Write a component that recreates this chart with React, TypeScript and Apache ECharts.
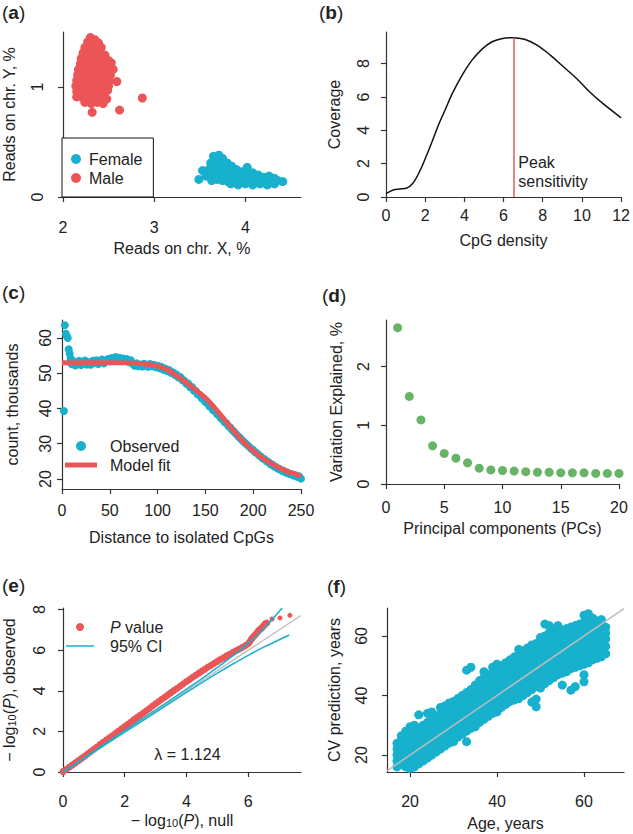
import { useEffect, useRef } from 'react';
import * as echarts from 'echarts';

const FONT = '"Liberation Sans", Arial, Helvetica, sans-serif';
const INK = '#222';
const AXIS = '#333';
const RED = '#ec5558';
const CYAN = '#17b0cd';
const GREEN = '#67b467';
const GRAY = '#bdbdbd';
const PEAK_RED = '#d9605f';

// (a) reads on chromosomes X / Y (%)
const maleXY: number[][] = [
  [2.30,1.45],[2.35,1.43],[2.27,1.41],[2.33,1.39],[2.39,1.40],
  [2.24,1.36],[2.30,1.35],[2.36,1.34],[2.42,1.36],
  [2.22,1.31],[2.28,1.30],[2.34,1.29],[2.40,1.31],[2.46,1.29],
  [2.20,1.26],[2.26,1.25],[2.32,1.24],[2.38,1.26],[2.44,1.25],[2.50,1.24],
  [2.19,1.21],[2.25,1.20],[2.31,1.19],[2.37,1.21],[2.43,1.20],[2.49,1.19],[2.53,1.22],
  [2.17,1.16],[2.23,1.15],[2.29,1.14],[2.35,1.16],[2.41,1.15],[2.47,1.14],[2.55,1.16],
  [2.16,1.11],[2.22,1.10],[2.28,1.09],[2.34,1.11],[2.40,1.10],[2.46,1.09],[2.52,1.11],
  [2.15,1.06],[2.21,1.05],[2.27,1.04],[2.33,1.06],[2.39,1.05],[2.45,1.04],[2.51,1.06],[2.59,1.05],
  [2.14,1.01],[2.20,1.00],[2.26,0.99],[2.32,1.01],[2.38,1.00],[2.44,0.99],[2.50,1.01],
  [2.15,0.96],[2.21,0.95],[2.27,0.94],[2.33,0.96],[2.39,0.95],[2.45,0.94],[2.49,0.97],
  [2.15,0.91],[2.22,0.90],[2.28,0.89],[2.35,0.91],[2.42,0.90],[2.48,0.89],
  [2.24,0.86],[2.31,0.85],[2.38,0.86],[2.44,0.85],
  [2.32,0.77],[2.62,0.79],[2.87,0.90],
];
const femaleXY: number[][] = [
  [3.49,0.16],[3.53,0.24],[3.57,0.19],
  [3.65,0.37],[3.71,0.38],[3.75,0.35],
  [3.62,0.31],[3.68,0.31],[3.74,0.30],[3.80,0.31],[3.85,0.28],
  [3.60,0.25],[3.66,0.25],[3.72,0.26],[3.78,0.25],[3.84,0.24],[3.90,0.25],[3.96,0.23],[4.02,0.27],[4.08,0.22],
  [3.60,0.20],[3.66,0.20],[3.72,0.19],[3.78,0.20],[3.84,0.19],[3.90,0.20],[3.96,0.19],[4.02,0.20],[4.08,0.19],[4.14,0.20],[4.20,0.18],[4.26,0.19],[4.32,0.17],
  [3.63,0.15],[3.69,0.16],[3.75,0.15],[3.81,0.14],[3.87,0.15],[3.93,0.14],[3.99,0.15],[4.05,0.14],[4.11,0.15],[4.17,0.14],[4.23,0.15],[4.29,0.14],[4.35,0.15],[4.41,0.14],
  [3.84,0.12],[3.92,0.11],[4.00,0.12],[4.08,0.11],[4.16,0.12],[4.24,0.11],[4.32,0.12],
];

// (b) coverage vs CpG density
const densityX = [0, 0.37, 0.7, 1.04, 1.37, 1.71, 2.04, 2.38, 2.71, 3.05, 3.38, 3.88, 4.38, 4.89, 5.39, 5.89, 6.48, 7.07, 7.73, 8.4, 9.07, 9.74, 10.4, 11.08, 12];
const coverageY = [0.2, 0.42, 0.48, 0.52, 0.82, 1.52, 2.41, 3.41, 4.41, 5.31, 6.2, 7.3, 8.2, 8.86, 9.3, 9.5, 9.56, 9.46, 9.1, 8.5, 7.8, 7.1, 6.3, 5.6, 4.75];
const peakDensity = 6.5;
const peakCoverage = 9.56;

// (c) counts (thousands) vs distance to isolated CpGs
const obsEarlyDist = [2, 3, 4, 5, 6, 7, 8, 9];
const obsEarlyCount = [39.3, 63.6, 61.2, 60.6, 60.0, 56.8, 55.6, 54.2];
const obsCount = [
  52.6, 53.4, 52.2, 52.9, 53.5, 52.3, 52.8, 53.6, 52.5, 53.1, 52.4, 53.5, 52.9, 53.7, 52.6, 53.3, 53.9, 52.8, 53.5, 54.0,
  53.4, 54.3, 53.8, 54.6, 53.9, 54.4, 53.6, 54.2, 53.5, 54.0, 53.2, 53.7, 52.6, 52.1, 52.8, 52.0, 52.5, 51.9, 52.7, 52.2,
  51.8, 52.6, 52.0, 52.4, 51.7, 52.1, 51.4, 51.8, 51.0, 51.3, 50.6, 50.9, 50.1, 50.3, 49.5, 49.6, 48.8, 48.9, 48.0, 47.9,
  47.0, 47.1, 46.0, 46.1, 45.0, 45.0, 44.0, 43.8, 42.9, 42.7, 41.8, 41.6, 40.6, 40.4, 39.5, 39.3, 38.4, 38.1, 37.3, 36.9,
  36.1, 35.8, 35.0, 34.6, 33.9, 33.4, 32.8, 32.2, 31.7, 31.1, 30.6, 30.1, 29.6, 29.1, 28.6, 28.2, 27.6, 27.3, 26.7, 26.4,
  25.8, 25.6, 25.0, 24.8, 24.2, 24.1, 23.5, 23.4, 22.9, 22.8, 22.3, 22.3, 21.8, 21.8, 21.4, 21.4, 21.0, 21.1, 20.6, 20.8,
  20.1,
];
const fitDist = [0, 10, 20, 30, 40, 50, 60, 70, 80, 90, 100, 110, 120, 130, 140, 150, 160, 170, 180, 190, 200, 210, 220, 230, 240, 250];
const fitCount = [53.0, 53.0, 53.0, 53.0, 53.0, 53.0, 53.0, 52.9, 52.8, 52.5, 52.0, 51.0, 49.3, 47.3, 45.2, 43.0, 40.1, 36.8, 33.5, 30.5, 28.0, 25.9, 24.2, 22.8, 21.7, 20.9];

// (d) variation explained by principal components
const pcIndex = [1, 2, 3, 4, 5, 6, 7, 8, 9, 10, 11, 12, 13, 14, 15, 16, 17, 18, 19, 20];
const varExplained = [2.66, 1.49, 1.09, 0.65, 0.52, 0.44, 0.36, 0.27, 0.24, 0.23, 0.22, 0.21, 0.2, 0.2, 0.19, 0.19, 0.19, 0.18, 0.18, 0.18];

// (e) QQ plot
const qqNull = [0.0, 0.1, 0.2, 0.3, 0.4, 0.5, 0.6, 0.7, 0.8, 0.9, 1.0, 1.1, 1.2, 1.3, 1.4, 1.5, 1.6, 1.7, 1.8, 1.9, 2.0, 2.1, 2.2, 2.3, 2.4, 2.5, 2.6, 2.7, 2.8, 2.9, 3.0, 3.1, 3.2, 3.3, 3.4, 3.5, 3.6, 3.7, 3.8, 3.9, 4.0, 4.1, 4.2, 4.3, 4.4, 4.5, 4.6, 4.7, 4.8, 4.9, 5.0, 5.1, 5.2, 5.3, 5.4, 5.5, 5.6, 5.7, 5.8, 5.9, 6.0, 6.05, 6.1, 6.15, 6.2, 6.25, 6.3, 6.35, 6.4, 6.45, 6.5, 6.55, 6.6];
const qqObserved = [0.02, 0.12, 0.23, 0.34, 0.45, 0.56, 0.67, 0.78, 0.9, 1.01, 1.12, 1.23, 1.35, 1.46, 1.57, 1.68, 1.79, 1.91, 2.02, 2.13, 2.24, 2.35, 2.46, 2.58, 2.69, 2.8, 2.91, 3.02, 3.13, 3.25, 3.36, 3.47, 3.58, 3.69, 3.8, 3.91, 4.02, 4.13, 4.24, 4.35, 4.46, 4.56, 4.67, 4.77, 4.87, 4.97, 5.07, 5.17, 5.26, 5.36, 5.45, 5.54, 5.63, 5.72, 5.8, 5.89, 5.97, 6.05, 6.13, 6.22, 6.32, 6.42, 6.54, 6.64, 6.72, 6.8, 6.9, 6.98, 7.05, 7.12, 7.2, 7.3, 7.34];
const qqTailNull = [6.77, 7.03, 7.35];
const qqTailObserved = [7.54, 7.59, 7.72];
const ciNull = [0, 1, 2, 3, 4, 4.5, 5, 5.5, 6, 6.5, 7.1];
const ciUpper = [0, 1.02, 2.04, 3.06, 4.08, 4.6, 5.15, 5.72, 6.35, 7.05, 8.08];
const ciLowNull = [0, 1, 2, 3, 4, 4.5, 5, 5.5, 6, 6.5, 7.33];
const ciLower = [0, 0.98, 1.96, 2.94, 3.92, 4.4, 4.87, 5.32, 5.75, 6.15, 6.75];
const lambdaText = 'λ = 1.124';

// (f) cross-validated age prediction
const ageYears = [17, 18, 19, 20, 21, 22, 23, 24, 25, 26, 27, 28, 29, 30, 31, 32, 33, 34, 35, 36, 37, 38, 39, 40, 41,
  42, 43, 44, 45, 46, 47, 48, 49, 50, 51, 52, 53, 54, 55, 56, 57, 58, 59, 60, 61, 62, 63, 64, 65];
const cvPredictions: number[][] = [
  [16, 18, 20, 22, 24],
  [17, 19, 21, 23, 25, 26.5],
  [16, 18, 20, 22, 24, 26, 28],
  [15.5, 17, 19, 21, 23, 25, 27, 29.5],
  [16, 18, 20, 22, 24, 26, 28, 30],
  [17, 19, 21, 23, 25, 27, 29, 33.5],
  [18, 20, 22, 24, 26, 28, 30],
  [19, 21, 23, 25, 27, 29, 31, 34],
  [20, 22, 24, 26, 28, 30, 32, 34.5],
  [21, 23, 25, 27, 29, 31, 33],
  [22, 24, 26, 28, 30, 32, 34, 36],
  [23, 25, 27, 29, 31, 33, 35, 36.5],
  [24, 26, 28, 30, 32, 34, 36, 37.5],
  [24.5, 27, 29, 31, 33, 35, 37, 38],
  [26, 28, 30, 32, 34, 36, 38, 39],
  [27, 29, 31, 33, 35, 37, 39, 40],
  [24.5, 28, 30, 32, 34, 36, 38, 40, 41, 48.5],
  [29, 31, 33, 35, 37, 39, 41, 42, 49.5],
  [29.5, 32, 34, 36, 38, 40, 42, 43.5],
  [31, 33, 35, 37, 39, 41, 43, 45],
  [32, 34, 36, 38, 40, 42, 44, 46, 48],
  [33, 35, 37, 39, 41, 43, 45, 47],
  [34, 36, 38, 40, 42, 44, 46, 48, 49.5],
  [34.5, 37, 39, 41, 43, 45, 47, 49, 50.5],
  [36, 38, 40, 42, 44, 46, 48, 50],
  [37, 39, 41, 43, 45, 47, 49, 51],
  [38, 40, 42, 44, 46, 48, 50, 52],
  [38.5, 41, 43, 45, 47, 49, 51, 53],
  [39, 42, 44, 46, 48, 50, 52, 54, 55.5],
  [40, 43, 45, 47, 49, 51, 53, 55],
  [41, 44, 46, 48, 50, 52, 54, 56],
  [37.8, 42, 45, 47, 49, 51, 53, 55, 57],
  [36.2, 38.8, 43, 45, 47, 49, 51, 53, 55, 57.5],
  [42.5, 45, 47, 49, 51, 53, 55, 57, 59.5],
  [44, 46, 48, 50, 52, 54, 56, 58, 60, 64],
  [45, 47, 49, 51, 53, 55, 57, 59, 61, 63.5],
  [46, 48, 50, 52, 54, 56, 58, 60, 62],
  [47, 49, 51, 53, 55, 57, 59, 61, 63.5],
  [43.5, 47.5, 50, 52, 54, 56, 58, 60, 62],
  [48, 50.5, 53, 55, 57, 59, 61, 62.5],
  [41.8, 49, 51, 53, 55, 57, 59, 61, 63],
  [43, 49.5, 52, 54, 56, 58, 60, 62, 63.5],
  [50, 52.5, 55, 57, 59, 61, 63, 64],
  [44.6, 47, 50.5, 53, 55, 57, 59, 61, 63, 64.5, 67],
  [51, 53.5, 56, 58, 60, 62, 64, 65.5, 67.5],
  [52, 54, 56, 58, 60, 62, 64, 66],
  [52.5, 55, 57, 59, 61, 63, 65],
  [53, 55.5, 58, 60, 62, 64, 65.5],
  [54, 56.5, 59, 61, 63],
];

const textBase = { fontFamily: FONT, fontSize: 16, color: INK };

function xAxisOf(o: { grid: number; min: number; max: number; ticks: number[]; name: string; labelMargin: number; nameGap: number; rich?: any }) {
  return {
    type: 'value', gridIndex: o.grid, min: o.min, max: o.max,
    name: o.name, nameLocation: 'middle', nameGap: o.nameGap,
    nameTextStyle: { ...textBase, rich: o.rich },
    axisLine: { show: true, onZero: false, lineStyle: { color: AXIS, width: 1.2 } },
    axisTick: { show: true, inside: false, length: 5, customValues: o.ticks, lineStyle: { color: AXIS, width: 1.2 } },
    axisLabel: { show: true, customValues: o.ticks, margin: o.labelMargin, ...textBase },
    splitLine: { show: false },
  };
}

// y tick labels run parallel to the axis, as in R (las = 0)
function yAxisOf(o: { grid: number; min: number; max: number; ticks: number[]; name: string; nameGap: number; labelMargin: number; rich?: any }) {
  return {
    type: 'value', gridIndex: o.grid, min: o.min, max: o.max,
    name: o.name, nameLocation: 'middle', nameGap: o.nameGap, nameRotate: 90,
    nameTextStyle: { ...textBase, rich: o.rich },
    axisLine: { show: true, onZero: false, lineStyle: { color: AXIS, width: 1.2 } },
    axisTick: { show: true, inside: false, length: 5, customValues: o.ticks, lineStyle: { color: AXIS, width: 1.2 } },
    axisLabel: { show: true, customValues: o.ticks, rotate: 90, margin: o.labelMargin, ...textBase },
    splitLine: { show: false },
  };
}

const panelLabel = (letter: string, left: number, top: number) => ({
  text: `{p|(}{b|${letter}}{p|)}`,
  left, top, padding: 0,
  textStyle: {
    fontFamily: FONT, fontSize: 19, color: INK, fontWeight: 'normal',
    rich: { p: { fontFamily: FONT, fontSize: 19, color: INK, fontWeight: 'normal' }, b: { fontFamily: FONT, fontSize: 19, fontWeight: 'bold', color: INK } },
  },
});

const subRich = {
  s: { fontFamily: FONT, fontSize: 11, color: INK, verticalAlign: 'bottom' },
  i: { fontFamily: FONT, fontSize: 16, color: INK, fontStyle: 'italic' },
};

function buildOption() {
  const obsData: number[][] = obsEarlyDist.map((d, i) => [d, obsEarlyCount[i]]);
  obsCount.forEach((c, i) => obsData.push([10 + 2 * i, c]));
  const fData: number[][] = [];
  ageYears.forEach((a, i) => cvPredictions[i].forEach((p) => fData.push([a, p])));
  const qqData: any[] = qqNull.map((x, i) => [x, qqObserved[i]]);
  qqTailNull.forEach((x, i) => qqData.push({ value: [x, qqTailObserved[i]], symbolSize: 5 }));

  return {
    animation: false,
    backgroundColor: '#fff',
    textStyle: { fontFamily: FONT },
    title: [
      panelLabel('a', 2, 3),
      panelLabel('b', 319, 3),
      panelLabel('c', 2, 283),
      panelLabel('d', 322, 286),
      panelLabel('e', 2, 576),
      panelLabel('f', 327, 577),
    ],
    grid: [
      { left: 62, top: 32, width: 239, height: 165 },
      { left: 386, top: 32, width: 238, height: 165 },
      { left: 62, top: 320, width: 239, height: 169 },
      { left: 386, top: 320, width: 233, height: 164 },
      { left: 62, top: 608, width: 239, height: 164 },
      { left: 387, top: 608, width: 237, height: 164 },
    ],
    xAxis: [
      xAxisOf({ grid: 0, min: 2, max: 4.61, ticks: [2, 3, 4], name: 'Reads on chr. X, %', labelMargin: 22, nameGap: 43 }),
      xAxisOf({ grid: 1, min: 0, max: 12, ticks: [0, 2, 4, 6, 8, 10, 12], name: 'CpG density', labelMargin: 10, nameGap: 35 }),
      xAxisOf({ grid: 2, min: 0, max: 250, ticks: [0, 50, 100, 150, 200, 250], name: 'Distance to isolated CpGs', labelMargin: 13, nameGap: 40 }),
      xAxisOf({ grid: 3, min: 0, max: 20, ticks: [0, 5, 10, 15, 20], name: 'Principal components (PCs)', labelMargin: 15, nameGap: 36 }),
      xAxisOf({ grid: 4, min: 0, max: 7.71, ticks: [0, 2, 4, 6], name: '− log{s|10}({i|P}), null', labelMargin: 21, nameGap: 40, rich: subRich }),
      xAxisOf({ grid: 5, min: 14.7, max: 69.2, ticks: [20, 40, 60], name: 'Age, years', labelMargin: 21, nameGap: 43 }),
    ],
    yAxis: [
      yAxisOf({ grid: 0, min: 0, max: 1.5, ticks: [0, 1], name: 'Reads on chr. Y, %', nameGap: 46, labelMargin: 18 }),
      yAxisOf({ grid: 1, min: 0, max: 9.9, ticks: [0, 2, 4, 6, 8], name: 'Coverage', nameGap: 44, labelMargin: 15 }),
      yAxisOf({ grid: 2, min: 17.16, max: 65.1, ticks: [20, 30, 40, 50, 60], name: 'count, thousands', nameGap: 42, labelMargin: 9 }),
      yAxisOf({ grid: 3, min: 0, max: 2.79, ticks: [0, 1, 2], name: 'Variation Explained, %', nameGap: 42, labelMargin: 15 }),
      yAxisOf({ grid: 4, min: 0, max: 8.08, ticks: [0, 2, 4, 6, 8], name: '− log{s|10}({i|P}), observed', nameGap: 46, labelMargin: 16, rich: subRich }),
      yAxisOf({ grid: 5, min: 14.3, max: 69.4, ticks: [20, 40, 60], name: 'CV prediction, years', nameGap: 45, labelMargin: 18 }),
    ],
    legend: [
      {
        left: 62, top: 138, orient: 'vertical', data: ['Female', 'Male'], selectedMode: false,
        borderColor: '#111', borderWidth: 1, backgroundColor: '#fff', borderRadius: 0,
        padding: [13, 11, 11, 9], itemGap: 3, itemWidth: 16, itemHeight: 10,
        textStyle: { ...textBase },
      },
      {
        left: 65, top: 438, orient: 'vertical', selectedMode: false,
        data: ['Observed', { name: 'Model fit', icon: 'path://M0,0H32V5H0Z' }],
        padding: 0, itemGap: 3, itemWidth: 32, itemHeight: 10,
        textStyle: { ...textBase, padding: [0, 0, 0, 8] },
      },
      {
        left: 66, top: 619, orient: 'vertical', selectedMode: false,
        data: ['P value', { name: '95% CI', icon: 'path://M0,0H28V1.5H0Z' }],
        padding: 0, itemGap: 3, itemWidth: 28, itemHeight: 8,
        formatter: (n: string) => (n === 'P value' ? '{i|P} value' : n),
        textStyle: { ...textBase, padding: [0, 0, 0, 11], rich: { i: { ...textBase, fontStyle: 'italic' } } },
      },
    ],
    series: [
      // (a)
      { type: 'scatter', name: 'Male', xAxisIndex: 0, yAxisIndex: 0, data: maleXY, symbolSize: 9, itemStyle: { color: RED, opacity: 1 }, silent: true },
      { type: 'scatter', name: 'Female', xAxisIndex: 0, yAxisIndex: 0, data: femaleXY, symbolSize: 9, itemStyle: { color: CYAN, opacity: 1 }, silent: true },
      // (b)
      {
        type: 'line', name: 'Coverage', xAxisIndex: 1, yAxisIndex: 1,
        data: densityX.map((x, i) => [x, coverageY[i]]), smooth: 0.35, symbol: 'none',
        lineStyle: { color: '#111', width: 1.5 }, silent: true,
        markLine: {
          silent: true, symbol: ['none', 'none'], label: { show: false },
          lineStyle: { color: PEAK_RED, width: 1.5, type: 'solid' },
          data: [[{ coord: [peakDensity, 0] }, { coord: [peakDensity, peakCoverage] }]],
        },
        markPoint: {
          silent: true, symbol: 'circle', symbolSize: 0,
          data: [{ coord: [peakDensity, 1.5] }],
          label: { show: true, position: 'right', distance: 5, formatter: 'Peak\nsensitivity', ...textBase, lineHeight: 19, align: 'left' },
        },
      },
      // (c)
      { type: 'scatter', name: 'Observed', xAxisIndex: 2, yAxisIndex: 2, data: obsData, symbolSize: 8, itemStyle: { color: CYAN, opacity: 1 }, silent: true },
      {
        type: 'line', name: 'Model fit', xAxisIndex: 2, yAxisIndex: 2,
        data: fitDist.map((x, i) => [x, fitCount[i]]), smooth: 0.3, symbol: 'none',
        itemStyle: { color: RED }, lineStyle: { color: RED, width: 5 }, silent: true,
      },
      // (d)
      { type: 'scatter', name: 'PCs', xAxisIndex: 3, yAxisIndex: 3, data: pcIndex.map((x, i) => [x, varExplained[i]]), symbolSize: 9, itemStyle: { color: GREEN, opacity: 1 }, silent: true },
      // (e)
      {
        type: 'line', name: 'null', xAxisIndex: 4, yAxisIndex: 4, data: [[0, 0], [7.71, 7.71]], symbol: 'none',
        lineStyle: { color: GRAY, width: 1.3 }, silent: true,
        markPoint: {
          silent: true, symbol: 'circle', symbolSize: 0,
          data: [{ coord: [4.03, 0.84] }],
          label: { show: true, position: 'inside', formatter: lambdaText, ...textBase },
        },
      },
      { type: 'scatter', name: 'P value', xAxisIndex: 4, yAxisIndex: 4, data: qqData, symbolSize: 7, itemStyle: { color: RED, opacity: 1 }, silent: true },
      {
        type: 'line', name: '95% CI', xAxisIndex: 4, yAxisIndex: 4, data: ciNull.map((x, i) => [x, ciUpper[i]]),
        smooth: 0.3, symbol: 'none', itemStyle: { color: CYAN }, lineStyle: { color: CYAN, width: 1.5 }, silent: true,
      },
      {
        type: 'line', name: '95% CI', xAxisIndex: 4, yAxisIndex: 4, data: ciLowNull.map((x, i) => [x, ciLower[i]]),
        smooth: 0.3, symbol: 'none', itemStyle: { color: CYAN }, lineStyle: { color: CYAN, width: 1.5 }, silent: true,
      },
      // (f)
      { type: 'scatter', name: 'CV', xAxisIndex: 5, yAxisIndex: 5, data: fData, symbolSize: 9, itemStyle: { color: CYAN, opacity: 1 }, silent: true },
      {
        type: 'line', name: 'identity', xAxisIndex: 5, yAxisIndex: 5, data: [[14.7, 14.7], [69.2, 69.2]], symbol: 'none',
        lineStyle: { color: GRAY, width: 1.5 }, silent: true,
      },
    ],
  };
}

export default function App() {
  const ref = useRef<HTMLDivElement>(null);
  useEffect(() => {
    const chart = echarts.init(ref.current!, null, { renderer: 'svg' });
    chart.setOption(buildOption() as any);
    return () => chart.dispose();
  }, []);
  return (
    <div
      ref={ref}
      style={{ position: 'absolute', left: 0, top: 0, width: 633, height: 834, background: '#fff' }}
    />
  );
}
